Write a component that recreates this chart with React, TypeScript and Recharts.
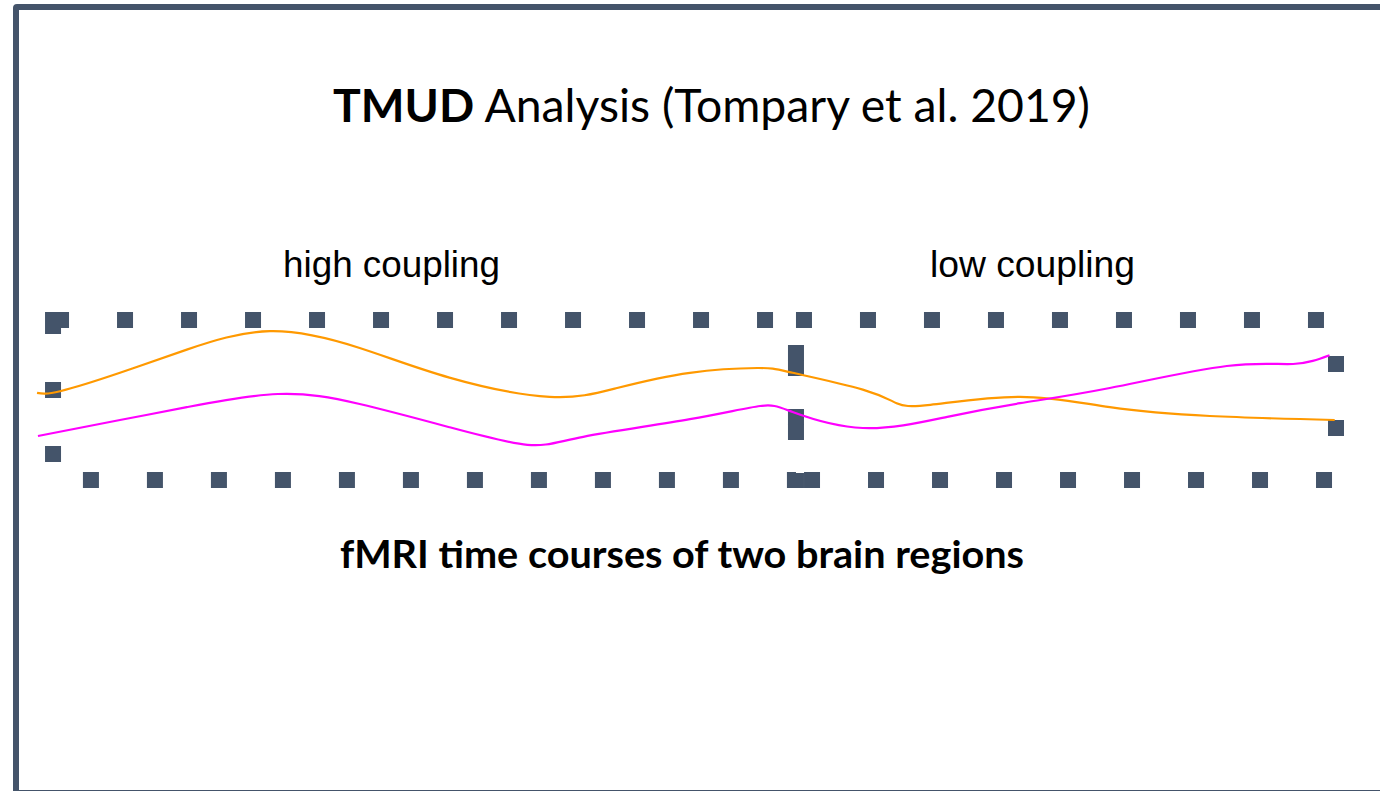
import React from "react";
import { LineChart, Line, XAxis, YAxis, ReferenceArea } from "recharts";

// time courses (arbitrary time units 0-100) and normalised BOLD signal
const orangeTime = [0.08, 1.85, 6.46, 11.6, 18.0, 24.9, 31.8, 39.5, 44.7, 50.3, 55.5, 58.2, 63.6, 66.2, 68.8, 75.7, 82.6, 90.3, 99.9];
const orangeSignal = [0.09, 0.11, 0.34, 0.63, 0.86, 0.65, 0.28, 0.04, 0.15, 0.34, 0.4, 0.34, 0.13, -0.04, -0.06, 0.04, -0.09, -0.2, -0.25];

const magentaTime = [0.15, 6.46, 11.6, 18.6, 24.9, 31.8, 37.8, 42.1, 50.3, 55.7, 58.2, 63.6, 70.1, 75.7, 82.6, 91.6, 96.7, 99.5];
const magentaSignal = [-0.45, -0.25, -0.09, 0.075, -0.05, -0.34, -0.56, -0.46, -0.24, -0.075, -0.15, -0.35, -0.21, -0.04, 0.15, 0.425, 0.45, 0.56];

// epoch boundaries: high coupling, then low coupling
const epochBounds = [1.31, 58.46, 100];
const signalRange = [-1, 1];

const orangeData = orangeTime.map((t, i) => ({ t, v: orangeSignal[i] }));
const magentaData = magentaTime.map((t, i) => ({ t, v: magentaSignal[i] }));

const slate = "#44546A";

export default function App() {
  return (
    <div
      style={{
        position: "absolute",
        left: 0,
        top: 0,
        width: 1380,
        height: 791,
        overflow: "hidden",
        background: "#fff",
      }}
    >
      <div
        style={{
          position: "absolute",
          left: 13,
          top: 4,
          width: 1400,
          height: 792,
          boxSizing: "border-box",
          border: `6px solid ${slate}`,
          borderRadius: 4,
        }}
      />
      <div style={{ position: "absolute", left: 0, top: 0 }}>
        <LineChart
          width={1380}
          height={791}
          margin={{ top: 320, right: 44, bottom: 311, left: 36 }}
        >
          <XAxis type="number" dataKey="t" domain={[0, 100]} hide />
          <YAxis type="number" dataKey="v" domain={signalRange} hide />
          <Line
            data={orangeData}
            dataKey="v"
            type="natural"
            stroke="#FF9900"
            strokeWidth={2.2}
            dot={false}
            activeDot={false}
            isAnimationActive={false}
          />
          <Line
            data={magentaData}
            dataKey="v"
            type="natural"
            stroke="#FF00FF"
            strokeWidth={2.2}
            dot={false}
            activeDot={false}
            isAnimationActive={false}
          />
          <ReferenceArea
            x1={epochBounds[0]}
            x2={epochBounds[1]}
            y1={signalRange[0]}
            y2={signalRange[1]}
            fill="none"
            stroke={slate}
            strokeWidth={16}
            strokeDasharray="16 48"
          />
          <ReferenceArea
            x1={epochBounds[1]}
            x2={epochBounds[2]}
            y1={signalRange[0]}
            y2={signalRange[1]}
            fill="none"
            stroke={slate}
            strokeWidth={16}
            strokeDasharray="16 48"
          />
        </LineChart>
      </div>
      <svg
        width={1380}
        height={791}
        style={{ position: "absolute", left: 0, top: 0, pointerEvents: "none" }}
      >
        <text
          x={333}
          y={122}
          fontFamily="Lato, 'Open Sans', sans-serif"
          fontSize={46}
          fill="#000"
          textLength={757}
          lengthAdjust="spacingAndGlyphs"
        >
          <tspan fontWeight="bold">TMUD</tspan>
          <tspan> Analysis (Tompary et al. 2019)</tspan>
        </text>
        <text
          x={283}
          y={277}
          fontFamily="'Liberation Sans', Arial, sans-serif"
          fontSize={36}
          fill="#000"
          textLength={217}
          lengthAdjust="spacingAndGlyphs"
        >
          high coupling
        </text>
        <text
          x={930}
          y={277}
          fontFamily="'Liberation Sans', Arial, sans-serif"
          fontSize={36}
          fill="#000"
          textLength={205}
          lengthAdjust="spacingAndGlyphs"
        >
          low coupling
        </text>
        <text
          x={340}
          y={568}
          fontFamily="Lato, 'Open Sans', sans-serif"
          fontSize={38}
          fontWeight="bold"
          fill="#000"
          textLength={684}
          lengthAdjust="spacingAndGlyphs"
        >
          fMRI time courses of two brain regions
        </text>
      </svg>
    </div>
  );
}
